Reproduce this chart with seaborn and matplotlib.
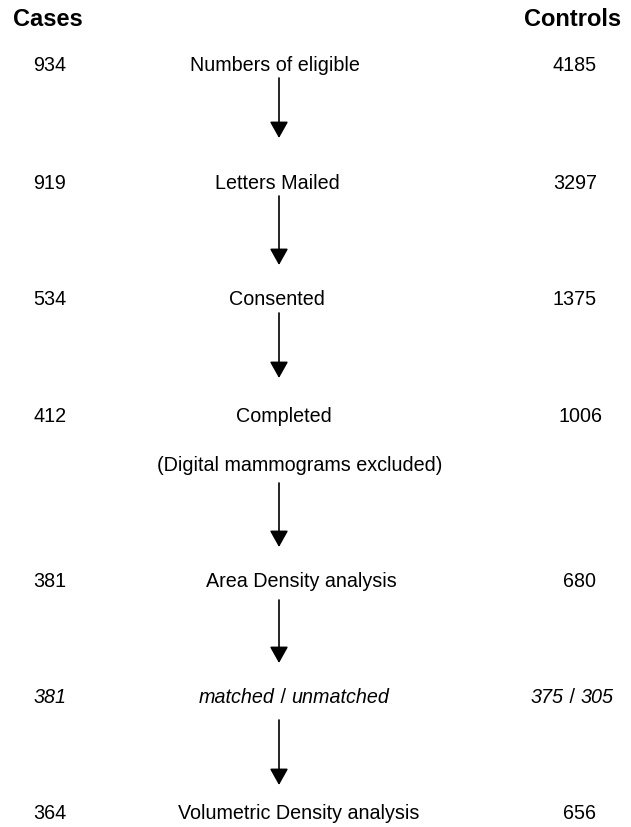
import matplotlib.pyplot as plt
import seaborn as sns

# flow stages, top to bottom
stages = [
    "Numbers of eligible",
    "Letters Mailed",
    "Consented",
    "Completed",
    "Area Density analysis",
    "matched / unmatched",
    "Volumetric Density analysis",
]
cases = ["934", "919", "534", "412", "381", "381", "364"]
controls = ["4185", "3297", "1375", "1006", "680", "375 / 305", "656"]
italic_rows = [False, False, False, False, False, True, False]
note = "(Digital mammograms excluded)"

# layout in pixel coordinates of the 631x827 canvas
row_y = [64, 182, 298, 415, 580, 696, 812]
stage_x = [275, 277, 277, 284, 301, 294, 299]
case_x = 50
control_x = [575, 575, 575, 581, 580, 572, 579]
arrows = [(78, 138), (196, 265), (313, 378), (483, 547), (600, 663), (720, 785)]
arrow_x = 279

sns.set_theme(style="white")
plt.rcParams["font.family"] = ["Liberation Sans", "DejaVu Sans"]

fig = plt.figure(figsize=(6.31, 8.27), dpi=100, facecolor="white")
ax = fig.add_axes([0, 0, 1, 1])
ax.set_xlim(0, 631)
ax.set_ylim(827, 0)
ax.axis("off")

fs = 14.2
dy = 1.5
kw = dict(fontsize=fs, color="black", va="center")


def split_italic(x, y, s):
    # italic parts with an upright slash in between
    parts = s.split(" / ")
    if len(parts) == 1:
        ax.text(x, y, s, style="italic", ha="center", **kw)
        return
    left, right = parts
    full = ax.text(0, 0, s, style="italic", alpha=0, **kw)
    renderer = fig.canvas.get_renderer()
    wl = ax.text(0, 0, left, style="italic", alpha=0, **kw).get_window_extent(renderer).width
    wf = full.get_window_extent(renderer).width
    x0 = x - wf / 2
    ax.text(x0, y, left, style="italic", ha="left", **kw)
    ax.text(x0 + wl, y, " / ", ha="left", **kw)
    ax.text(x0 + wf, y, right, style="italic", ha="right", **kw)


ax.text(48, 18 + dy, "Cases", fontsize=17, fontweight="bold", color="black",
        ha="center", va="center")
ax.text(573, 18 + dy, "Controls", fontsize=17, fontweight="bold", color="black",
        ha="center", va="center")

for i, label in enumerate(stages):
    y = row_y[i] + dy
    for x, s in [(stage_x[i], label), (case_x, cases[i]), (control_x[i], controls[i])]:
        if italic_rows[i]:
            split_italic(x, y, s)
        else:
            ax.text(x, y, s, ha="center", **kw)

ax.text(300, 464 + dy, note, ha="center", **kw)

for y0, y1 in arrows:
    ax.annotate(
        "", xy=(arrow_x, y1), xytext=(arrow_x, y0),
        arrowprops=dict(arrowstyle="-|>,head_length=0.5,head_width=0.28", color="black",
                        lw=1.2, mutation_scale=20, shrinkA=0, shrinkB=0),
    )

fig.savefig("out.png", dpi=100, facecolor="white")
